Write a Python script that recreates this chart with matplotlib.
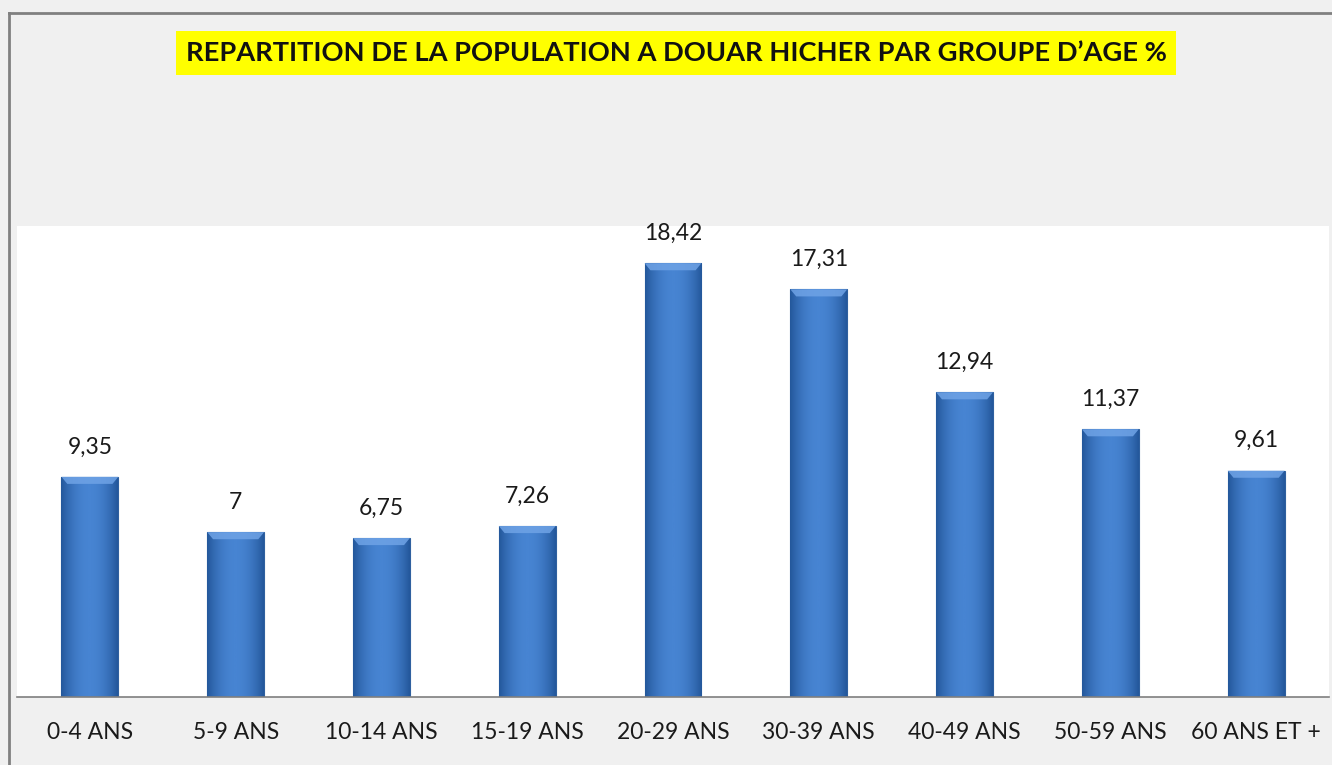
import matplotlib
matplotlib.use("Agg")
import matplotlib.pyplot as plt
import numpy as np
from matplotlib.patches import Polygon

plt.rcParams['font.family'] = ['Lato', 'DejaVu Sans']

categories = ["0-4 ANS", "5-9 ANS", "10-14 ANS", "15-19 ANS", "20-29 ANS",
              "30-39 ANS", "40-49 ANS", "50-59 ANS", "60 ANS ET +"]
values = [9.35, 7, 6.75, 7.26, 18.42, 17.31, 12.94, 11.37, 9.61]
value_labels = ["9,35", "7", "6,75", "7,26", "18,42", "17,31", "12,94", "11,37", "9,61"]
title = "REPARTITION DE LA POPULATION A DOUAR HICHER PAR GROUPE D\u2019AGE %"

W, H = 1332, 765
fig = plt.figure(figsize=(W / 100, H / 100), dpi=100)
fig.patch.set_facecolor('#f0f0f0')

# outer chart border (left and top visible)
fig.add_artist(plt.Line2D([9 / W, 9 / W], [0, 1 - 13 / H], color='#808080', lw=2))
fig.add_artist(plt.Line2D([9 / W, 1], [1 - 13 / H, 1 - 13 / H], color='#808080', lw=2))

ax = fig.add_axes([17 / W, 1 - 697 / H, (1329 - 17) / W, (697 - 226) / H])
ax.set_facecolor('white')

x = np.arange(len(categories))
bars = ax.bar(x, values, width=0.39, color='#3b78c6', edgecolor='#2f609f', linewidth=0.8, zorder=2)

# gradient shading inside each bar
grad = np.linspace(0, 1, 64)
shade = 1 - 0.55 * (2 * np.abs(grad - 0.5)) ** 2
cmap = matplotlib.colors.LinearSegmentedColormap.from_list('b', ['#24589c', '#4784d2'])
for b in bars:
    x0, w, h = b.get_x(), b.get_width(), b.get_height()
    im = ax.imshow(shade[np.newaxis, :], extent=[x0, x0 + w, 0, h], aspect='auto',
                   cmap=cmap, vmin=0.45, vmax=1, zorder=2.5)
    im.set_clip_path(b)
    # lighter bevel on top
    bev = 0.3
    ax.add_patch(Polygon([(x0, h), (x0 + w, h), (x0 + w - 0.04, h - bev), (x0 + 0.04, h - bev)],
                         closed=True, facecolor='#6fa3e6', edgecolor='none', alpha=0.85, zorder=3))

for xi, v, lab in zip(x, values, value_labels):
    ax.annotate(lab, (xi, v), xytext=(0, 14), textcoords='offset points',
                ha='center', va='bottom', fontsize=16.5, color='#1a1a1a')

ax.set_xlim(-0.5, len(categories) - 0.5)
ax.set_ylim(0, 20)
ax.set_yticks([])
ax.set_xticks(x)
ax.set_xticklabels(categories, fontsize=16.5, color='#1a1a1a')
ax.tick_params(axis='x', length=0, pad=18)
for s in ['top', 'right', 'left']:
    ax.spines[s].set_visible(False)
ax.spines['bottom'].set_color('#7f7f7f')
ax.spines['bottom'].set_linewidth(1.2)

fig.text(676 / W, 1 - 53 / H, title, ha='center', va='center', fontsize=19.6,
         fontweight='bold', color='#111111',
         bbox=dict(boxstyle='square,pad=0.35', facecolor='#ffff00', edgecolor='none'))

fig.savefig('out.png', dpi=100, facecolor=fig.get_facecolor())
